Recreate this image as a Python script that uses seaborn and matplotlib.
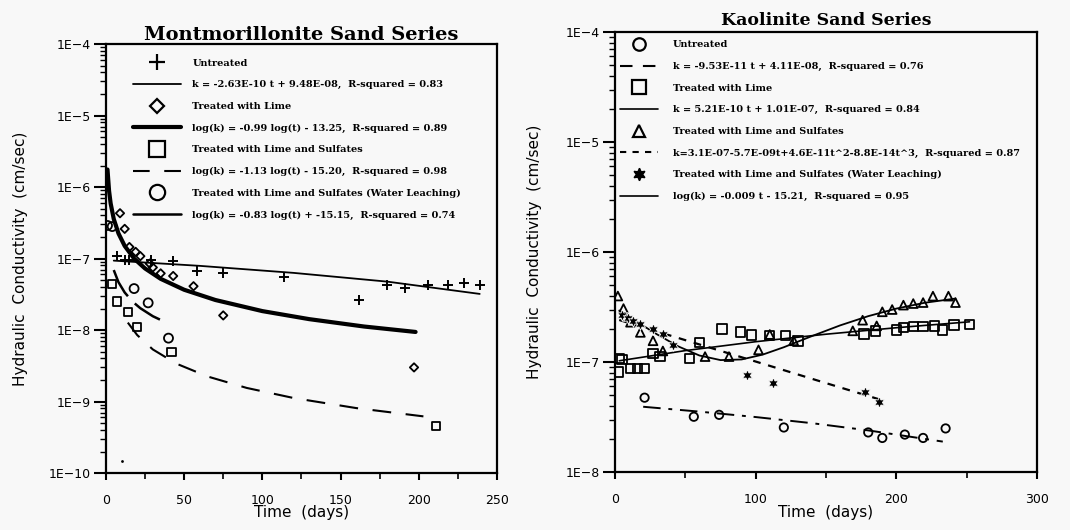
import numpy as np
import matplotlib
matplotlib.use("Agg")
import matplotlib.pyplot as plt
import seaborn as sns
from matplotlib.lines import Line2D
from matplotlib.ticker import LogLocator, FuncFormatter, NullFormatter, MultipleLocator

# ---------------- data: Montmorillonite sand series (left) ----------------
mont_untr_t = [7, 12, 15, 29, 43, 58, 75, 114, 162, 180, 191, 206, 219, 229, 239]
mont_untr_k = [1.1e-7, 9.5e-8, 9.5e-8, 9.6e-8, 9.3e-8, 6.7e-8, 6.3e-8, 5.6e-8,
               2.6e-8, 4.2e-8, 3.9e-8, 4.2e-8, 4.3e-8, 4.6e-8, 4.2e-8]
mont_dot_t = [10]
mont_dot_k = [1.45e-10]
mont_lime_t = [9, 12, 15, 19, 22, 28, 30, 35, 43, 56, 75, 197]
mont_lime_k = [4.3e-7, 2.6e-7, 1.45e-7, 1.24e-7, 1.08e-7, 8.5e-8, 7.5e-8,
               6.2e-8, 5.7e-8, 4.1e-8, 1.6e-8, 3.0e-9]
mont_sulf_t = [4, 7, 14, 20, 42, 211]
mont_sulf_k = [4.4e-8, 2.5e-8, 1.8e-8, 1.1e-8, 4.9e-9, 4.5e-10]
mont_leach_t = [1, 4, 18, 27, 40]
mont_leach_k = [2.9e-7, 2.8e-7, 3.8e-8, 2.4e-8, 7.7e-9]

# fitted curves
mont_untr_fit_t = [5, 60, 120, 180, 239]
mont_untr_fit_k = [9.35e-8, 7.9e-8, 6.3e-8, 4.75e-8, 3.2e-8]
mont_lime_fit_t = [1, 2, 3, 5, 8, 12, 18, 25, 35, 50, 70, 100, 130, 165, 198]
mont_lime_fit_k = [1.76e-6, 8.86e-7, 5.93e-7, 3.58e-7, 2.25e-7, 1.5e-7, 1.0e-7, 7.26e-8,
                   5.2e-8, 3.66e-8, 2.63e-8, 1.84e-8, 1.42e-8, 1.12e-8, 9.4e-9]
mont_sulf_fit_t = [14, 20, 30, 45, 65, 90, 120, 160, 203]
mont_sulf_fit_k = [1.27e-8, 8.5e-9, 5.35e-9, 3.39e-9, 2.24e-9, 1.55e-9, 1.12e-9, 8.1e-10, 6.2e-10]
mont_leach_fit_t = [5, 8, 12, 17, 22, 30, 40]
mont_leach_fit_k = [6.9e-8, 4.68e-8, 3.35e-8, 2.5e-8, 2.02e-8, 1.56e-8, 1.23e-8]

mont_labels = [
    "Untreated",
    "k = -2.63E-10 t + 9.48E-08,  R-squared = 0.83",
    "Treated with Lime",
    "log(k) = -0.99 log(t) - 13.25,  R-squared = 0.89",
    "Treated with Lime and Sulfates",
    "log(k) = -1.13 log(t) - 15.20,  R-squared = 0.98",
    "Treated with Lime and Sulfates (Water Leaching)",
    "log(k) = -0.83 log(t) + -15.15,  R-squared = 0.74",
]

# ---------------- data: Kaolinite sand series (right) ----------------
kao_untr_t = [21, 56, 74, 120, 180, 190, 206, 219, 235]
kao_untr_k = [4.74e-8, 3.18e-8, 3.31e-8, 2.54e-8, 2.29e-8, 2.04e-8, 2.19e-8, 2.04e-8, 2.49e-8]
kao_lime_t = [2, 3, 5, 11, 16, 21, 27, 32, 53, 60, 76, 89, 97, 110, 121, 130,
              177, 185, 200, 205, 212, 219, 227, 233, 241, 252]
kao_lime_k = [8.1e-8, 1.07e-7, 1.05e-7, 8.7e-8, 8.7e-8, 8.7e-8, 1.2e-7, 1.12e-7, 1.07e-7,
              1.5e-7, 2.0e-7, 1.87e-7, 1.76e-7, 1.75e-7, 1.75e-7, 1.55e-7, 1.8e-7, 1.91e-7,
              1.95e-7, 2.07e-7, 2.09e-7, 2.09e-7, 2.12e-7, 1.95e-7, 2.17e-7, 2.2e-7]
kao_sulf_t = [2, 6, 11, 18, 27, 34, 64, 81, 102, 110, 127, 169, 176, 186, 190,
              197, 205, 212, 219, 226, 237, 242]
kao_sulf_k = [3.98e-7, 3.06e-7, 2.3e-7, 1.86e-7, 1.56e-7, 1.26e-7, 1.12e-7, 1.12e-7,
              1.29e-7, 1.78e-7, 1.56e-7, 1.92e-7, 2.4e-7, 2.13e-7, 2.86e-7, 3.0e-7,
              3.29e-7, 3.4e-7, 3.47e-7, 3.97e-7, 3.97e-7, 3.47e-7]
kao_leach_t = [5, 9, 13, 18, 27, 34, 41, 94, 112, 178, 188]
kao_leach_k = [2.7e-7, 2.5e-7, 2.35e-7, 2.2e-7, 1.98e-7, 1.78e-7, 1.42e-7,
               7.6e-8, 6.5e-8, 5.3e-8, 4.3e-8]

kao_untr_fit_t = [20, 60, 100, 140, 180, 233]
kao_untr_fit_k = [3.92e-8, 3.54e-8, 3.16e-8, 2.78e-8, 2.39e-8, 1.89e-8]
kao_lime_fit_t = [3, 50, 100, 150, 200, 252]
kao_lime_fit_k = [1.026e-7, 1.27e-7, 1.53e-7, 1.79e-7, 2.05e-7, 2.32e-7]
kao_sulf_fit_t = [3, 10, 20, 30, 45, 60, 75, 90, 105, 120, 140, 160, 180, 200, 220, 242]
kao_sulf_fit_k = [2.94e-7, 2.575e-7, 2.137e-7, 1.78e-7, 1.386e-7, 1.146e-7, 1.041e-7,
                  1.055e-7, 1.168e-7, 1.363e-7, 1.721e-7, 2.152e-7, 2.612e-7, 3.06e-7,
                  3.454e-7, 3.774e-7]
kao_leach_fit_t = [3, 50, 100, 150, 190]
kao_leach_fit_k = [2.41e-7, 1.58e-7, 1.01e-7, 6.43e-8, 4.49e-8]

kao_labels = [
    "Untreated",
    "k = -9.53E-11 t + 4.11E-08,  R-squared = 0.76",
    "Treated with Lime",
    "k = 5.21E-10 t + 1.01E-07,  R-squared = 0.84",
    "Treated with Lime and Sulfates",
    "k=3.1E-07-5.7E-09t+4.6E-11t^2-8.8E-14t^3,  R-squared = 0.87",
    "Treated with Lime and Sulfates (Water Leaching)",
    "log(k) = -0.009 t - 15.21,  R-squared = 0.95",
]

# ---------------- style ----------------
sns.set_theme(style="ticks")
bg = "#f8f8f8"
plt.rcParams["font.family"] = ["DejaVu Sans"]
plt.rcParams["figure.facecolor"] = bg
plt.rcParams["axes.facecolor"] = bg
plt.rcParams["axes.edgecolor"] = "black"
plt.rcParams["text.color"] = "black"
plt.rcParams["axes.labelcolor"] = "black"
plt.rcParams["xtick.color"] = "black"
plt.rcParams["ytick.color"] = "black"

fig = plt.figure(figsize=(10.7, 5.3), dpi=100)
ax1 = fig.add_axes([0.099, 0.1075, 0.3654, 0.8094])
ax2 = fig.add_axes([0.5748, 0.1094, 0.3944, 0.8302])

star = (6, 1, 0)


def open_pts(ax, t, k, marker, s):
    sns.scatterplot(x=t, y=k, ax=ax, marker=marker, s=s, color="black",
                    facecolor="none", edgecolor="black", linewidth=1.3, zorder=3)


def fit_line(ax, t, k, lw, ls="-"):
    sns.lineplot(x=t, y=k, ax=ax, color="black", linewidth=lw, linestyle=ls, zorder=2)


# left panel
sns.scatterplot(x=mont_untr_t, y=mont_untr_k, ax=ax1, marker="+", s=60,
                color="black", linewidth=1.4, zorder=3)
sns.scatterplot(x=mont_dot_t, y=mont_dot_k, ax=ax1, marker="o", s=4,
                color="black", linewidth=0, zorder=3)
open_pts(ax1, mont_lime_t, mont_lime_k, "D", 18)
open_pts(ax1, mont_sulf_t, mont_sulf_k, "s", 36)
open_pts(ax1, mont_leach_t, mont_leach_k, "o", 42)
fit_line(ax1, mont_untr_fit_t, mont_untr_fit_k, 1.3)
fit_line(ax1, mont_lime_fit_t, mont_lime_fit_k, 3.0)
fit_line(ax1, mont_sulf_fit_t, mont_sulf_fit_k, 1.5, (0, (9, 7)))
fit_line(ax1, mont_leach_fit_t, mont_leach_fit_k, 1.8, (0, (12, 4)))

# right panel
open_pts(ax2, kao_untr_t, kao_untr_k, "o", 36)
open_pts(ax2, kao_lime_t, kao_lime_k, "s", 45)
open_pts(ax2, kao_sulf_t, kao_sulf_k, "^", 40)
sns.scatterplot(x=kao_leach_t, y=kao_leach_k, ax=ax2, marker=star, s=70,
                color="black", linewidth=0.6, zorder=3)
fit_line(ax2, kao_untr_fit_t, kao_untr_fit_k, 1.4, (0, (9, 4, 2, 4)))
fit_line(ax2, kao_lime_fit_t, kao_lime_fit_k, 1.2)
fit_line(ax2, kao_sulf_fit_t, kao_sulf_fit_k, 1.3)
fit_line(ax2, kao_leach_fit_t, kao_leach_fit_k, 1.6, (0, (3.5, 3.5)))

# axes formatting
log_fmt = FuncFormatter(lambda v, p: "1E\u2212%d" % int(round(-np.log10(v))))
for ax, xmax, xmaj, xmin_, ymin in [(ax1, 250, 50, 25, 1e-10), (ax2, 300, 100, 50, 1e-8)]:
    ax.set_yscale("log")
    ax.set_xlim(0, xmax)
    ax.set_ylim(ymin, 1e-4)
    ax.yaxis.set_major_locator(LogLocator(base=10, numticks=20))
    ax.yaxis.set_minor_locator(LogLocator(base=10, subs=np.arange(2, 10), numticks=20))
    ax.yaxis.set_major_formatter(log_fmt)
    ax.yaxis.set_minor_formatter(NullFormatter())
    ax.xaxis.set_major_locator(MultipleLocator(xmaj))
    ax.xaxis.set_minor_locator(MultipleLocator(xmin_))
    ax.tick_params(axis="y", which="major", direction="out", length=9, width=1.5,
                   pad=2, labelsize=9)
    ax.tick_params(axis="y", which="minor", direction="out", length=4, width=1.0)
    ax.tick_params(axis="x", which="major", direction="out", length=5, width=1.5,
                   pad=10, labelsize=9)
    ax.tick_params(axis="x", which="minor", direction="out", length=4, width=1.2)
    for sp in ax.spines.values():
        sp.set_visible(True)
        sp.set_linewidth(1.6)
        sp.set_color("black")
    ax.set_xlabel("Time  (days)", fontsize=11, labelpad=0)
    ax.set_ylabel("Hydraulic  Conductivity  (cm/sec)", fontsize=11)
    ax.grid(False)

ax1.yaxis.set_label_coords(-0.2, 0.5)
ax1.xaxis.set_label_coords(0.5, -0.075)
ax2.yaxis.set_label_coords(-0.173, 0.5)
ax2.xaxis.set_label_coords(0.5, -0.075)

ax1.set_title("Montmorillonite Sand Series", fontsize=14, fontweight="bold",
              family="DejaVu Serif", pad=3)
ax2.set_title("Kaolinite Sand Series", fontsize=12.5, fontweight="bold",
              family="DejaVu Serif", pad=5)

# legends
mont_handles = [
    Line2D([], [], marker="+", color="black", ls="none", ms=12, mew=1.6),
    Line2D([], [], color="black", lw=1.3),
    Line2D([], [], marker="D", mfc="none", mec="black", ls="none", ms=7, mew=1.6),
    Line2D([], [], color="black", lw=3.0),
    Line2D([], [], marker="s", mfc="none", mec="black", ls="none", ms=11, mew=1.6),
    Line2D([], [], color="black", lw=1.5, ls=(0, (8, 7))),
    Line2D([], [], marker="o", mfc="none", mec="black", ls="none", ms=11, mew=1.6),
    Line2D([], [], color="black", lw=1.8),
]
kao_handles = [
    Line2D([], [], marker="o", mfc="none", mec="black", ls="none", ms=9, mew=1.6),
    Line2D([], [], color="black", lw=1.5, ls=(0, (6, 5))),
    Line2D([], [], marker="s", mfc="none", mec="black", ls="none", ms=10, mew=1.6),
    Line2D([], [], color="black", lw=1.2),
    Line2D([], [], marker="^", mfc="none", mec="black", ls="none", ms=9, mew=1.6),
    Line2D([], [], color="black", lw=1.5, ls=(0, (3, 3))),
    Line2D([], [], marker=star, color="black", ls="none", ms=9),
    Line2D([], [], color="black", lw=1.2),
]
legend_font = {"family": "DejaVu Serif", "weight": "bold", "size": 7}
ax1.legend(mont_handles, mont_labels, loc="upper left", bbox_to_anchor=(0.069, 0.966),
           frameon=False, prop=legend_font, handlelength=4.9, handletextpad=1.2,
           labelspacing=1.3, borderpad=0, borderaxespad=0)
ax2.legend(kao_handles, kao_labels, loc="upper left", bbox_to_anchor=(0.012, 0.981),
           frameon=False, prop=legend_font, handlelength=3.9, handletextpad=1.5,
           labelspacing=1.3, borderpad=0, borderaxespad=0)

fig.savefig("out.png", dpi=100, facecolor=bg)
